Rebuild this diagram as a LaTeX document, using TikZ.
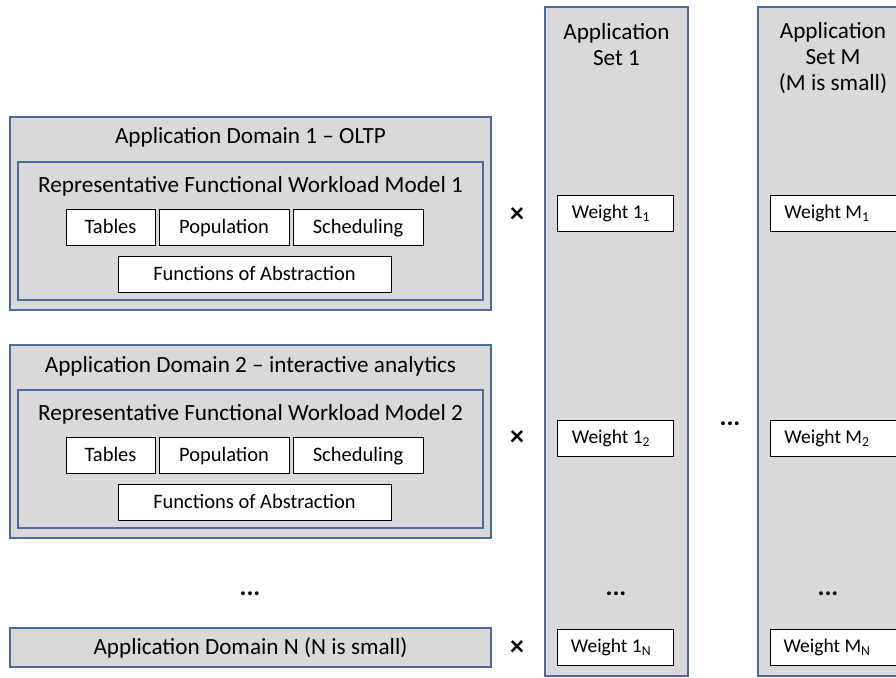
\documentclass[tikz,border=0pt]{standalone}
\usepackage{fontspec}
\setmainfont{Carlito}
\definecolor{boxfill}{HTML}{D9D9D9}
\definecolor{boxedge}{HTML}{4A6C9B}
\tikzset{
  graybox/.style={draw=boxedge, line width=1.8pt, fill=boxfill, inner sep=0pt},
  whitebox/.style={draw=black, line width=1pt, fill=white, inner sep=0pt, minimum height=36pt, text height=16pt, text depth=4pt, font=\fontsize{20.5}{24}\selectfont},
  weightbox/.style={draw=black, line width=1pt, fill=white, inner sep=0pt, minimum height=36pt, minimum width=116pt, text height=15.5pt, text depth=4pt, font=\fontsize{19.5}{22}\selectfont},
  titletext/.style={inner sep=0pt, text height=17.5pt, text depth=4pt, font=\fontsize{23.2}{26}\selectfont},
  coltext/.style={inner sep=0pt, align=center, font=\fontsize{23.2}{26}\selectfont},
  dotstext/.style={inner sep=0pt, font=\bfseries\fontsize{26}{28}\selectfont},
  timestext/.style={inner sep=0pt, font=\bfseries\fontsize{28}{30}\selectfont}
}
\begin{document}
\begin{tikzpicture}[x=1pt,y=-1pt]
\useasboundingbox (0,0) rectangle (896,677);
\clip (0,0) rectangle (896,677);
% Domain 1
\node[graybox, minimum width=481pt, minimum height=193pt] (d1) at (250.5,213.5) {};
\node[titletext] (d1t) at (250.5,137) {Application Domain 1 – OLTP};
\node[graybox, minimum width=465pt, minimum height=138pt] (m1) at (250.5,231) {};
\node[titletext] (m1t) at (250.5,186) {Representative Functional Workload Model 1};
\node[whitebox, minimum width=89pt] (t1) at (110.5,227) {Tables};
\node[whitebox, minimum width=130pt] (p1) at (224,227) {Population};
\node[whitebox, minimum width=130pt] (s1) at (358,227) {Scheduling};
\node[whitebox, minimum width=273pt] (f1) at (254.5,274) {Functions of Abstraction};
% Domain 2
\node[graybox, minimum width=481pt, minimum height=193pt] (d2) at (250.5,441.5) {};
\node[titletext] (d2t) at (250.5,366) {Application Domain 2 – interactive analytics};
\node[graybox, minimum width=465pt, minimum height=138pt] (m2) at (250.5,459) {};
\node[titletext] (m2t) at (250.5,414) {Representative Functional Workload Model 2};
\node[whitebox, minimum width=89pt] (t2) at (110.5,455) {Tables};
\node[whitebox, minimum width=130pt] (p2) at (224,455) {Population};
\node[whitebox, minimum width=130pt] (s2) at (358,455) {Scheduling};
\node[whitebox, minimum width=273pt] (f2) at (254.5,502) {Functions of Abstraction};
% Domain N
\node[dotstext] (dd) at (250,594) {...};
\node[graybox, minimum width=481pt, minimum height=39pt, titletext] (dn) at (250.5,647.5) {Application Domain N (N is small)};
% times
\node[timestext] (x1) at (517,215) {×};
\node[timestext] (x2) at (517,438) {×};
\node[timestext] (x3) at (517,648) {×};
% Set 1
\node[graybox, minimum width=143pt, minimum height=669pt] (c1) at (616.5,341.5) {};
\node[coltext] (c1t) at (616.5,45) {Application\\Set 1};
\node[weightbox] (w11) at (615,213) {\hspace*{-8pt}Weight 1\textsubscript{1}};
\node[weightbox] (w12) at (615,438) {\hspace*{-8pt}Weight 1\textsubscript{2}};
\node[dotstext] (c1d) at (616,594) {...};
\node[weightbox] (w1n) at (615,647) {\hspace*{-8pt}Weight 1\textsubscript{N}};
% between
\node[dotstext] (md) at (730,424) {...};
% Set M
\node[graybox, minimum width=150pt, minimum height=669pt] (cm) at (833,341.5) {};
\node[coltext] (cmt) at (833,58) {Application\\Set M\\(M is small)};
\node[weightbox, minimum width=126pt] (wm1) at (833,213) {\hspace*{-12pt}Weight M\textsubscript{1}};
\node[weightbox, minimum width=126pt] (wm2) at (833,438) {\hspace*{-12pt}Weight M\textsubscript{2}};
\node[dotstext] (cmd) at (828,594) {...};
\node[weightbox, minimum width=126pt] (wmn) at (833,647) {\hspace*{-12pt}Weight M\textsubscript{N}};
\end{tikzpicture}
\end{document}
